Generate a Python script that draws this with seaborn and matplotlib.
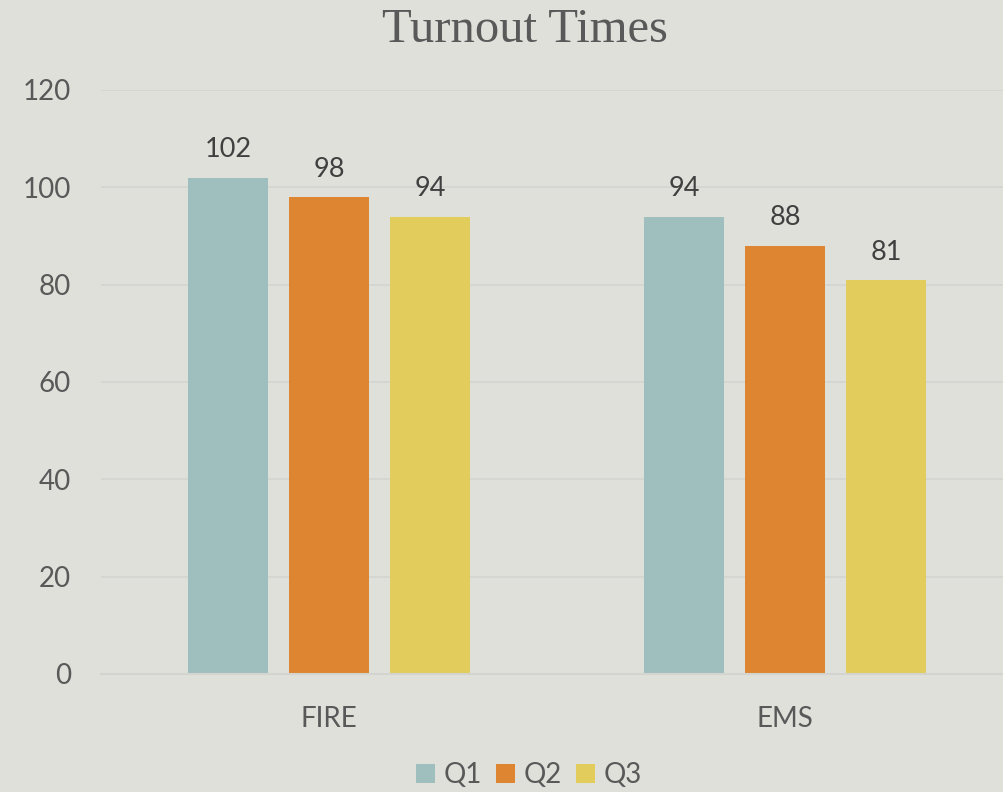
import matplotlib
matplotlib.use("Agg")
import matplotlib.pyplot as plt
import seaborn as sns
import pandas as pd
from matplotlib.patches import Patch

categories = ["FIRE", "EMS"]
quarters = ["Q1", "Q2", "Q3"]
q1 = [102, 94]
q2 = [98, 88]
q3 = [94, 81]
colors = ["#9FBFBF", "#DD8530", "#E2CC5C"]
y_ticks = [0, 20, 40, 60, 80, 100, 120]

rows = []
for q, vals in zip(quarters, [q1, q2, q3]):
    for c, v in zip(categories, vals):
        rows.append({"category": c, "quarter": q, "value": v})
df = pd.DataFrame(rows)

sns.set_theme(style="white")
plt.rcParams["font.family"] = ["Lato", "DejaVu Sans"]

bg = "#E0E0DB"
fig = plt.figure(figsize=(10.04, 7.92), dpi=100, facecolor=bg)
ax = fig.add_axes([101 / 1004, 1 - 674 / 792, 903 / 1004, 584 / 792])
ax.set_facecolor(bg)

sns.barplot(data=df, x="category", y="value", hue="quarter", order=categories,
            hue_order=quarters, palette=colors, width=0.664, gap=0.21,
            saturation=1, ax=ax, legend=False, errorbar=None,
            linewidth=0, edgecolor="none")

ax.set_ylim(0, 120)
ax.set_xlim(-0.5, -0.5 + 903 / 456)
ax.set_yticks(y_ticks)
ax.set_yticklabels([str(t) for t in y_ticks])
ax.yaxis.grid(True, color="#D3D3CF", linewidth=1.2)
ax.set_axisbelow(True)
for s in ["top", "right", "left"]:
    ax.spines[s].set_visible(False)
ax.spines["bottom"].set_color("#D3D3CF")
ax.spines["bottom"].set_linewidth(1.5)
ax.tick_params(axis="both", length=0, labelsize=20, colors="#595959")
ax.tick_params(axis="y", pad=21.5)
ax.tick_params(axis="x", pad=23)
ax.set_xlabel("")
ax.set_ylabel("")

for cont in ax.containers:
    ax.bar_label(cont, fmt="%d", padding=11, fontsize=19.5, color="#404040")

fig.text(0.523, 1 - 30 / 792, "Turnout Times", ha="center", va="center",
         fontsize=35, color="#595959", family=["Liberation Serif", "DejaVu Serif"])

handles = [Patch(facecolor=c, edgecolor="none") for c in colors]
fig.legend(handles, quarters, loc="center", bbox_to_anchor=(529 / 1004, 1 - 775 / 792),
           ncol=3, frameon=False, fontsize=20, handlelength=0.7, handleheight=0.7,
           handletextpad=0.3, columnspacing=0.5, labelcolor="#595959")

fig.savefig("out.png", dpi=100, facecolor=bg)
